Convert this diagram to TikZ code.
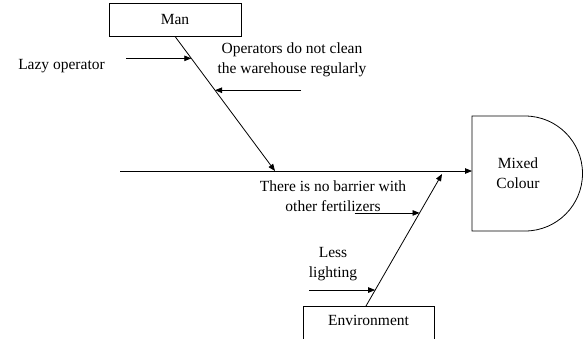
\documentclass[tikz,border=0pt]{standalone}
\usepackage{fontspec}
\setmainfont{Liberation Serif}
\usetikzlibrary{arrows.meta,positioning,calc}

\tikzset{
  txt/.style={align=center, inner sep=0pt, font=\fontsize{15.5}{20}\selectfont},
  bonebox/.style={draw, line width=0.8pt, minimum width=132pt, minimum height=33pt, inner sep=0pt, font=\fontsize{15.5}{20}\selectfont},
  arr/.style={-{Triangle[length=7pt,width=5.5pt]}, line width=0.8pt},
}

\begin{document}
\begin{tikzpicture}[x=1pt,y=-1pt]
  \useasboundingbox (0,0) rectangle (585,338);
  \node[bonebox] (man) at (175,19.5) {Man}; % 上の要因の箱
  \draw[line width=0.8pt] (303,306) rectangle (434,346); % 下の要因の箱（下端は切れている）
  \node[txt] (env) at (368.5,320) {Environment};
  \coordinate (envtop) at (366,306);
  \draw[line width=0.8pt] (472,116) -- (525,116) arc[start angle=-90, end angle=90, radius=57.5] -- (472,231) -- cycle; % 結果の頭
  \node[txt] (effect) at (518,173) {Mixed\\Colour};
  \coordinate (tail) at (120,171);
  \coordinate (head) at (472,171);
  \draw[arr] (tail) -- (head); % 背骨
  \coordinate (manjoin) at (275,171);
  \coordinate (envjoin) at (442,174);
  \draw[arr] (man.south) -- (manjoin); % Man の骨
  \draw[arr] (envtop) -- (envjoin); % Environment の骨
  \coordinate (manA) at ($(man.south)!0.163!(manjoin)$);
  \coordinate (manB) at ($(man.south)!0.40!(manjoin)$);
  \coordinate (envA) at ($(envtop)!0.705!(envjoin)$);
  \coordinate (envB) at ($(envtop)!0.121!(envjoin)$);
  \node[txt] (lazy) at (61.5,66) {Lazy operator};
  \node[txt] (clean) at (292,60) {Operators do not clean\\the warehouse regularly};
  \node[txt] (barrier) at (333,196) {There is no barrier with\\other fertilizers};
  \node[txt] (light) at (333,264) {Less\\lighting};
  \draw[arr] ($(manA)+(-65,0)$) -- (manA); % 小骨
  \draw[arr] ($(manB)+(86,0)$) -- (manB);
  \draw[arr] ($(envA)+(-65,0)$) -- (envA);
  \draw[arr] ($(envB)+(-66,0)$) -- (envB);
\end{tikzpicture}
\end{document}
